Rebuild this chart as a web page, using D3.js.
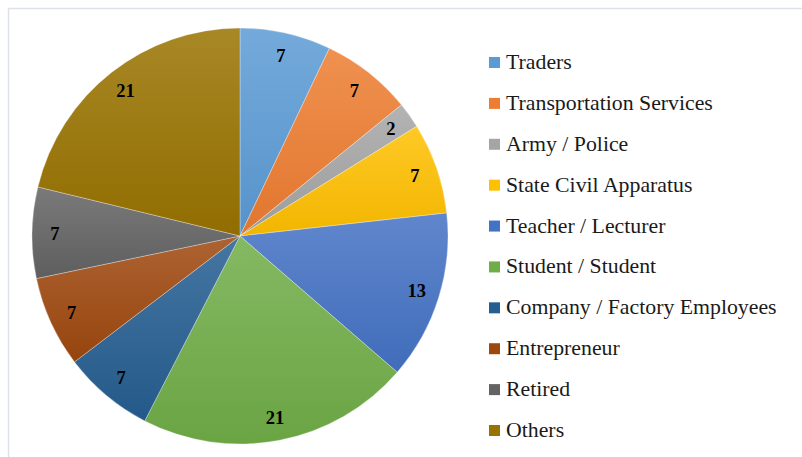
<!DOCTYPE html>
<html lang="en">
<head>
  <meta charset="UTF-8">
  <title>occupations pie</title>
  <script src="https://cdn.jsdelivr.net/npm/d3@7"></script>
  <style>
    body { margin: 0; background: #fff; }
  </style>
</head>
<body>
<script>
let width = 802;
let height = 457;

let categories = ['Traders', 'Transportation Services', 'Army / Police', 'State Civil Apparatus',
  'Teacher / Lecturer', 'Student / Student', 'Company / Factory Employees', 'Entrepreneur',
  'Retired', 'Others'];
let values = [7, 7, 2, 7, 13, 21, 7, 7, 7, 21];
let colors = ['#5b9bd5', '#ed7d31', '#a5a5a5', '#ffc000', '#4472c4',
  '#70ad47', '#255e91', '#9e480e', '#636363', '#997300'];

let cx = 240;
let cy = 236;
let radius = 208;

let svg = d3.select('body')
  .append('svg')
  .attr('width', width)
  .attr('height', height);

// chart frame
svg.append('rect')
  .attr('x', 8.5)
  .attr('y', 8.5)
  .attr('width', width)
  .attr('height', height)
  .attr('fill', 'none')
  .attr('stroke', '#dde1e8')
  .attr('stroke-width', 1.5);

let color = d3.scaleOrdinal()
  .domain(categories)
  .range(colors);

let defs = svg.append('defs');
categories.forEach(function (c, i) {
  let base = d3.color(color(c));
  let grad = defs.append('linearGradient')
    .attr('id', 'g' + i)
    .attr('x1', 0).attr('y1', 0)
    .attr('x2', 0).attr('y2', 1);
  grad.append('stop')
    .attr('offset', '0%')
    .attr('stop-color', d3.interpolateRgb(base, '#ffffff')(0.15));
  grad.append('stop')
    .attr('offset', '100%')
    .attr('stop-color', base.darker(0.15));
});

let pie = d3.pie()
  .sort(null)
  .value(function (d) { return d; });

let arcs = pie(values);

let arc = d3.arc()
  .innerRadius(0)
  .outerRadius(radius);

let labelArc = d3.arc()
  .innerRadius(radius * 0.89)
  .outerRadius(radius * 0.89);

let g = svg.append('g')
  .attr('transform', 'translate(' + cx + ',' + cy + ')');

g.selectAll('path.slice')
  .data(arcs)
  .enter()
  .append('path')
  .attr('class', 'slice')
  .attr('d', arc)
  .attr('fill', function (d, i) { return 'url(#g' + i + ')'; })
  .attr('stroke', '#ffffff')
  .attr('stroke-opacity', 0.5)
  .attr('stroke-width', 0.6);

g.selectAll('text.lbl')
  .data(arcs)
  .enter()
  .append('text')
  .attr('class', 'lbl')
  .attr('transform', function (d) { return 'translate(' + labelArc.centroid(d) + ')'; })
  .attr('text-anchor', 'middle')
  .attr('dy', '0.35em')
  .attr('font-family', '"Liberation Serif", "Times New Roman", serif')
  .attr('font-weight', 'bold')
  .attr('font-size', 18.5)
  .attr('fill', '#000')
  .text(function (d) { return d.data; });

// legend
let legendY = d3.scalePoint()
  .domain(categories)
  .range([69, 437]);

let legend = svg.append('g')
  .selectAll('g')
  .data(categories)
  .enter()
  .append('g')
  .attr('transform', function (d) { return 'translate(489,' + legendY(d) + ')'; });

legend.append('rect')
  .attr('x', 0)
  .attr('y', -12)
  .attr('width', 11)
  .attr('height', 11)
  .attr('fill', function (d) { return color(d); });

legend.append('text')
  .attr('x', 17)
  .attr('y', 0)
  .attr('font-family', '"Liberation Serif", "Times New Roman", serif')
  .attr('font-size', 21.8)
  .attr('fill', '#1a1a1a')
  .text(function (d) { return d; });
</script>
</body>
</html>
